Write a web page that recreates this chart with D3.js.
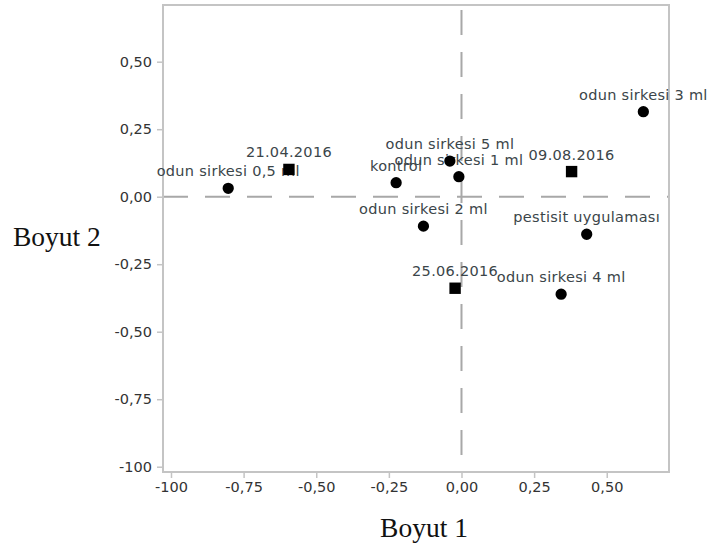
<!DOCTYPE html>
<html>
<head>
<meta charset="utf-8">
<script src="https://cdn.jsdelivr.net/npm/d3@7"></script>
<style>
  html, body { margin: 0; padding: 0; background: #fff; }
  svg { display: block; }
</style>
</head>
<body>
<svg id="chart" width="711" height="551"></svg>
<script>
// Two-dimensional configuration (Boyut 1 × Boyut 2)
const labels = [
  "odun sirkesi 0,5 ml", "21.04.2016", "kontrol", "odun sirkesi 5 ml",
  "odun sirkesi 1 ml", "09.08.2016", "odun sirkesi 3 ml", "odun sirkesi 2 ml",
  "pestisit uygulaması", "25.06.2016", "odun sirkesi 4 ml"
];
const dim1 = [-0.803, -0.594, -0.225, -0.040, -0.009, 0.379, 0.626, -0.131, 0.431, -0.022, 0.343];
const dim2 = [0.031, 0.101, 0.052, 0.132, 0.074, 0.093, 0.315, -0.109, -0.139, -0.339, -0.361];
// "circle" = treatment, "square" = sampling date
const kinds = ["circle", "square", "circle", "circle", "circle", "square",
               "circle", "circle", "circle", "square", "circle"];

const xTicks = [-1, -0.75, -0.5, -0.25, 0, 0.25, 0.5];
const xTickLabels = ["-100", "-0,75", "-0,50", "-0,25", "0,00", "0,25", "0,50"];
const yTicks = [-1, -0.75, -0.5, -0.25, 0, 0.25, 0.5];
const yTickLabels = ["-100", "-0,75", "-0,50", "-0,25", "0,00", "0,25", "0,50"];

const xTitle = "Boyut 1";
const yTitle = "Boyut 2";

const points = labels.map((name, i) => ({ name, x: dim1[i], y: dim2[i], kind: kinds[i] }));

const svg = d3.select("#chart");
const plot = { left: 163, right: 669, top: 5, bottom: 472 };

const x = d3.scaleLinear().domain([-1.0275, 0.7143]).range([plot.left, plot.right]);
const y = d3.scaleLinear().domain([-1.0196, 0.71]).range([plot.bottom, plot.top]);

const tickFont = "DejaVu Sans, Verdana, sans-serif";
const frameColor = "#c4c4c4";

// Axes with outward ticks
const xAxis = d3.axisBottom(x).tickValues(xTicks)
  .tickFormat((d, i) => xTickLabels[i]).tickSize(6).tickPadding(4);
const yAxis = d3.axisLeft(y).tickValues(yTicks)
  .tickFormat((d, i) => yTickLabels[i]).tickSize(6).tickPadding(5);

const gx = svg.append("g").attr("transform", `translate(0,${plot.bottom})`).call(xAxis);
const gy = svg.append("g").attr("transform", `translate(${plot.left},0)`).call(yAxis);

[gx, gy].forEach(g => {
  g.select(".domain").remove();
  g.selectAll(".tick line").attr("stroke", frameColor).attr("stroke-width", 1.5);
  g.selectAll(".tick text")
    .attr("fill", "#333")
    .style("font-family", tickFont)
    .style("font-size", "14.5px");
});

// Reference lines through the origin
svg.append("line")
  .attr("x1", plot.left).attr("x2", plot.right)
  .attr("y1", y(0)).attr("y2", y(0))
  .attr("stroke", "#a8a8a8").attr("stroke-width", 2)
  .attr("stroke-dasharray", "25,17");
svg.append("line")
  .attr("x1", x(0)).attr("x2", x(0))
  .attr("y1", plot.top + 5).attr("y2", plot.bottom)
  .attr("stroke", "#a8a8a8").attr("stroke-width", 2)
  .attr("stroke-dasharray", "25,17");

// Plot frame
svg.append("rect")
  .attr("x", plot.left).attr("y", plot.top)
  .attr("width", plot.right - plot.left).attr("height", plot.bottom - plot.top)
  .attr("fill", "none").attr("stroke", frameColor).attr("stroke-width", 2);

// Point labels (drawn under the markers)
svg.append("g").selectAll("text")
  .data(points).join("text")
  .attr("x", d => x(d.x))
  .attr("y", d => y(d.y) - 12)
  .attr("text-anchor", "middle")
  .attr("fill", "#3b4549")
  .style("font-family", tickFont)
  .style("font-size", "14.5px")
  .style("letter-spacing", "0.3px")
  .text(d => d.name);

// Markers
const sym = { circle: d3.symbolCircle, square: d3.symbolSquare };
svg.append("g").selectAll("path")
  .data(points).join("path")
  .attr("transform", d => `translate(${x(d.x)},${y(d.y)})`)
  .attr("d", d => d3.symbol(sym[d.kind], d.kind === "square" ? 130 : 100)())
  .attr("fill", "#000");

// Axis titles
svg.append("text")
  .attr("x", (plot.left + plot.right) / 2 + 8)
  .attr("y", 537)
  .attr("text-anchor", "middle")
  .attr("fill", "#111")
  .style("font-family", "Liberation Serif, Times New Roman, serif")
  .style("font-size", "27.5px")
  .text(xTitle);

svg.append("text")
  .attr("x", 13)
  .attr("y", 246)
  .attr("fill", "#111")
  .style("font-family", "Liberation Serif, Times New Roman, serif")
  .style("font-size", "27.5px")
  .text(yTitle);
</script>
</body>
</html>
